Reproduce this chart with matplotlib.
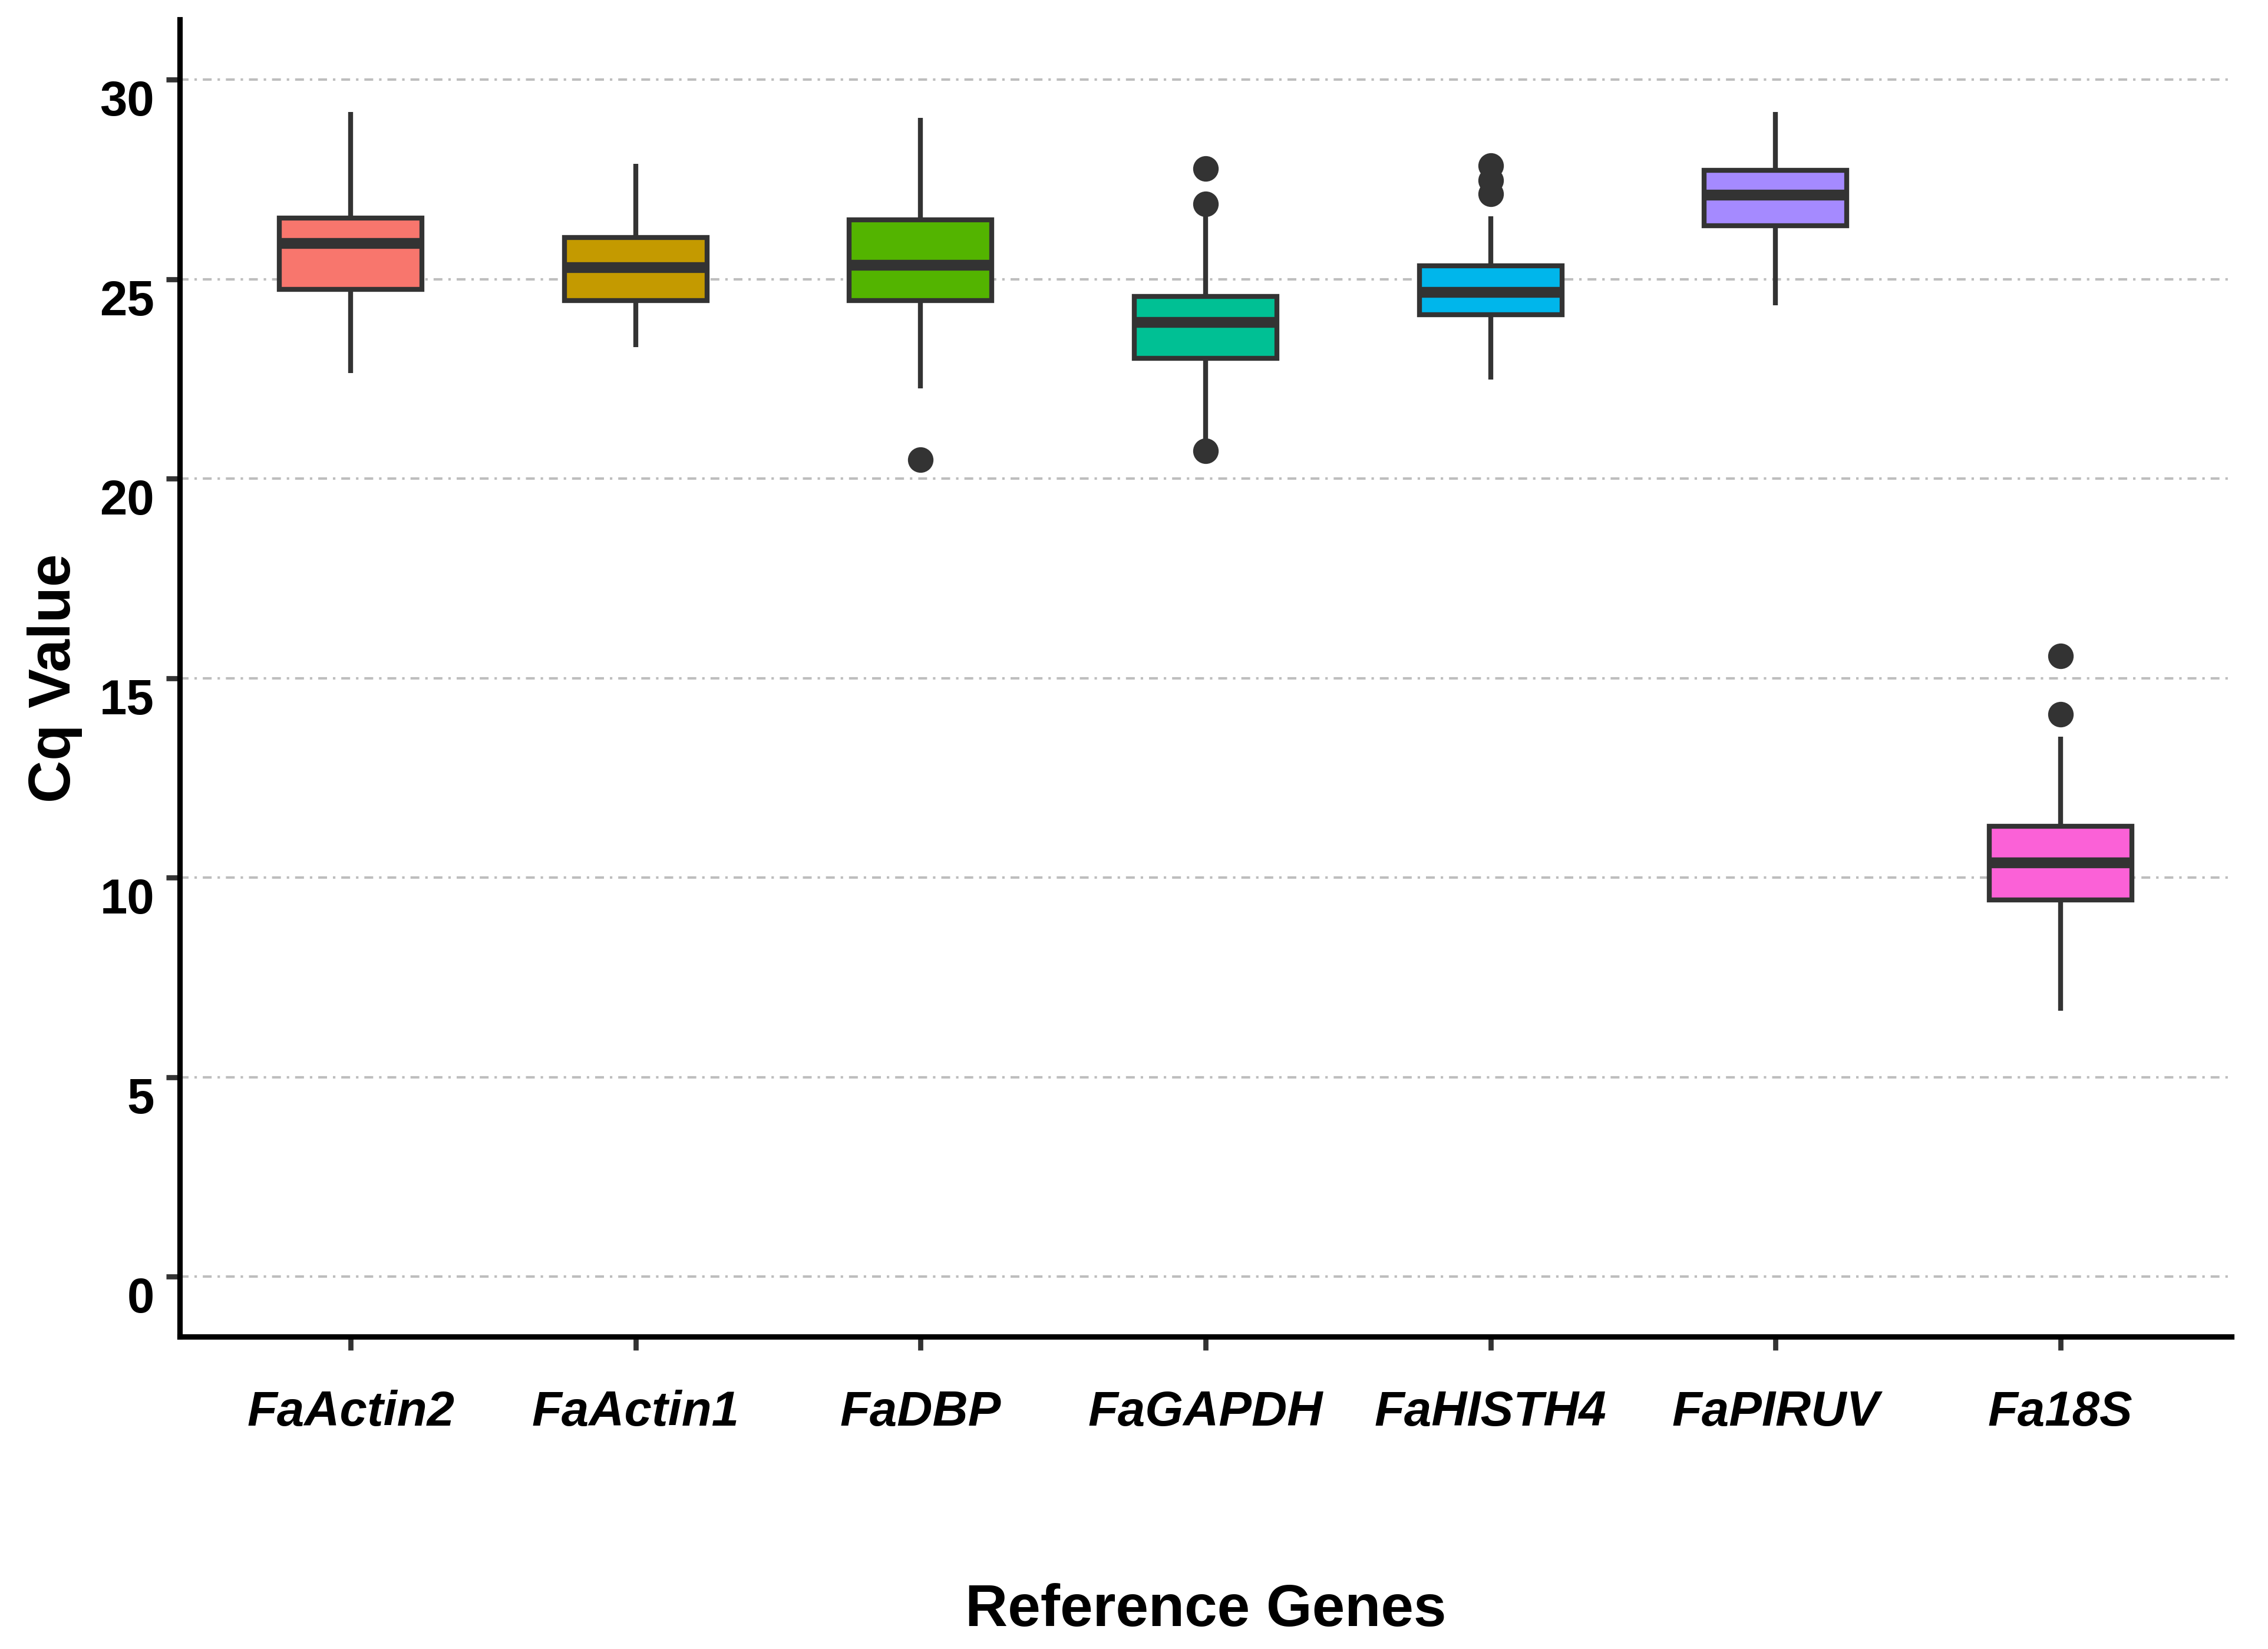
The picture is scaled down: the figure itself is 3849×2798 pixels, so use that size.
import matplotlib.pyplot as plt
import numpy as np

plt.rcParams['font.family'] = ['Liberation Sans', 'DejaVu Sans']

genes = ['FaActin2', 'FaActin1', 'FaDBP', 'FaGAPDH', 'FaHISTH4', 'FaPIRUV', 'Fa18S']
whislo = [22.64, 23.29, 22.26, 20.85, 22.48, 24.34, 6.66]
q1 = [24.74, 24.46, 24.47, 23.02, 24.11, 26.34, 9.44]
med = [25.90, 25.29, 25.35, 23.92, 24.67, 27.11, 10.38]
q3 = [26.53, 26.05, 26.49, 24.56, 25.33, 27.73, 11.29]
whishi = [29.19, 27.89, 29.04, 26.75, 26.58, 29.19, 13.53]
fliers = [[], [], [20.48], [27.77, 26.88, 20.70], [27.85, 27.47, 27.14], [], [15.55, 14.09]]
colors = ['#F8766D', '#C49A00', '#53B400', '#00C094', '#00B6EB', '#A58AFF', '#FB61D7']

stats = []
for i in range(len(genes)):
    stats.append(dict(label=genes[i], whislo=whislo[i], q1=q1[i], med=med[i],
                      q3=q3[i], whishi=whishi[i], fliers=fliers[i]))

fig = plt.figure(figsize=(12.83, 9.3267), dpi=300)
ax = fig.add_axes([0.07924, 0.18942, 0.90465, 0.79861])

line_col = '#333333'
bp = ax.bxp(stats, positions=np.arange(1, len(genes) + 1), widths=0.5,
            patch_artist=True, showcaps=False,
            boxprops=dict(linewidth=2, edgecolor=line_col),
            medianprops=dict(color=line_col, linewidth=4.4, solid_capstyle='butt'),
            whiskerprops=dict(color=line_col, linewidth=2, solid_capstyle='butt'),
            flierprops=dict(marker='o', markerfacecolor=line_col,
                            markeredgecolor=line_col, markersize=9.4))
for patch, c in zip(bp['boxes'], colors):
    patch.set_facecolor(c)

ax.set_xlim(0.4, 7.6)
ax.set_ylim(-1.5, 31.5)
ax.set_yticks([0, 5, 10, 15, 20, 25, 30])
ax.set_xticks(np.arange(1, len(genes) + 1))
ax.set_xticklabels(genes, fontstyle='italic', fontweight='bold')
for lab in ax.get_yticklabels():
    lab.set_fontweight('bold')
    lab.set_va('top')

ax.set_axisbelow(True)
ax.yaxis.grid(True, color='#BEBEBE', linewidth=1, linestyle=(0, (3.6, 2.4, 1, 2.4)))

for s in ['top', 'right']:
    ax.spines[s].set_visible(False)
for s in ['left', 'bottom']:
    ax.spines[s].set_linewidth(2.2)
    ax.spines[s].set_color('black')

ax.tick_params(axis='both', length=5.5, width=2.1, color=line_col,
               labelsize=20, labelcolor='black')
ax.tick_params(axis='x', pad=16)
ax.tick_params(axis='y', pad=4.8)

ax.set_xlabel('Reference Genes', fontsize=24, fontweight='bold', labelpad=60)
ax.set_ylabel('Cq Value', fontsize=24, fontweight='bold', labelpad=7)

fig.savefig('out.png', dpi=300)
